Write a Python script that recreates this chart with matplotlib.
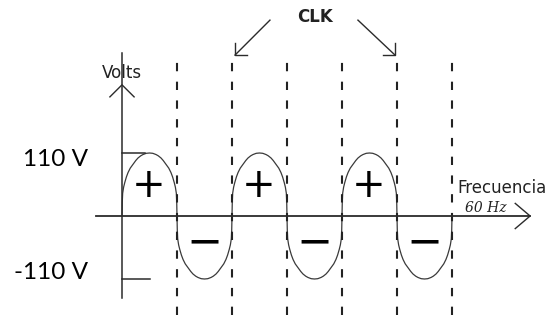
# -*- coding: utf-8 -*-

import numpy as np
from matplotlib import pyplot as plt

# Signal data (volts, half cycles of the 60 Hz wave)
v_peak = 110
half_cycles = [0, 1, 2, 3, 4, 5, 6]
signs = ['+', '−', '+', '−', '+', '−']
clk_edges = [1, 2, 3, 4, 5, 6]
level_labels = ['110 V', '-110 V']
level_values = [110, -110]

# Shape of one lobe (fraction of half cycle, fraction of peak)
lobe_t = [0.0, 0.005, 0.012, 0.03, 0.05, 0.08, 0.11, 0.15, 0.2, 0.25, 0.29,
          0.34, 0.38, 0.44, 0.5, 0.56, 0.62, 0.66, 0.71, 0.75, 0.8, 0.85,
          0.89, 0.92, 0.95, 0.97, 0.988, 0.995, 1.0]
lobe_v = [0.0, 0.22, 0.36, 0.46, 0.53, 0.62, 0.69, 0.76, 0.82, 0.88, 0.92,
          0.955, 0.975, 0.995, 1.0, 0.995, 0.975, 0.955, 0.92, 0.88, 0.82, 0.76,
          0.69, 0.62, 0.53, 0.46, 0.36, 0.22, 0.0]

# Scale of the drawing: 55 px per half cycle, 63 px per 110 V
px_x = 55.0
px_v = 63.0 / 110.0

fig = plt.figure(figsize=(5.49, 3.21), dpi=100)
ax = fig.add_axes([0, 0, 1, 1])
ax.set_xlim(-122 / px_x, (549 - 122) / px_x)
ax.set_ylim(-(321 - 216) / px_v, 216 / px_v)
ax.axis('off')

axc = '#2b2b2b'

# wave, one lobe per half cycle
xs, ys = [], []
for i in range(len(signs)):
    sgn = 1 if signs[i] == '+' else -1
    xs += [half_cycles[i] + t for t in lobe_t]
    ys += [sgn * v_peak * v for v in lobe_v]
ax.plot(xs, ys, '-', color='#3a3a3a', lw=0.9)

# clock edges (dashed)
for x in clk_edges:
    ax.plot([x, x], [-173, 272], color='#222222', lw=1.5, dashes=(4, 5))

# axes
ax.plot([0, 0], [-143, 284], color=axc, lw=1.1)
ax.plot([-0.22, 0, 0.22], [208, 229, 208], color=axc, lw=1.0)
ax.plot([-0.47, 7.42], [0, 0], color=axc, lw=1.3)
ax.plot([7.15, 7.42, 7.15], [22, 0, -22], color=axc, lw=1.0)

# level ticks and labels
for lab, v, xe in zip(level_labels, level_values, [0.42, 0.51]):
    ax.plot([0, xe], [v, v], color=axc, lw=1.1)
    ax.text(-0.62, v * 0.9, lab, ha='right', va='center',
            fontsize=17.5, family='Lato', color='black')

# + / - signs in each lobe
for i, s in enumerate(signs):
    if s == '+':
        ax.text(half_cycles[i] + 0.49, 53, s, ha='center', va='center',
                fontsize=29, family='DejaVu Sans', color='black')
    else:
        ax.text(half_cycles[i] + 0.5, -46, s, ha='center', va='center',
                fontsize=31, family='DejaVu Sans', color='black')

ax.text(0, 250, 'Volts', ha='center', va='center', fontsize=12,
        family='DejaVu Sans', color='#222222')
ax.text(6.09, 49, 'Frecuencia', ha='left', va='center', fontsize=12,
        family='DejaVu Sans', color='#222222')
ax.text(6.24, 14, '60 Hz', ha='left', va='center', fontsize=10,
        family='DejaVu Serif', style='italic', color='#222222')

# CLK label with its two arrows
ax.text(3.51, 347, 'CLK', ha='center', va='center', fontsize=12,
        family='DejaVu Sans', weight='bold', color='#222222')
ax.plot([2.69, 2.055], [342, 281], color=axc, lw=1.0)
ax.plot([2.055, 2.055, 2.27], [302, 281, 281], color=axc, lw=1.0)
ax.plot([4.29, 4.964], [342, 281], color=axc, lw=1.0)
ax.plot([4.745, 4.964, 4.964], [281, 281, 302], color=axc, lw=1.0)

plt.savefig('out.png', dpi=100)
plt.close(fig)
